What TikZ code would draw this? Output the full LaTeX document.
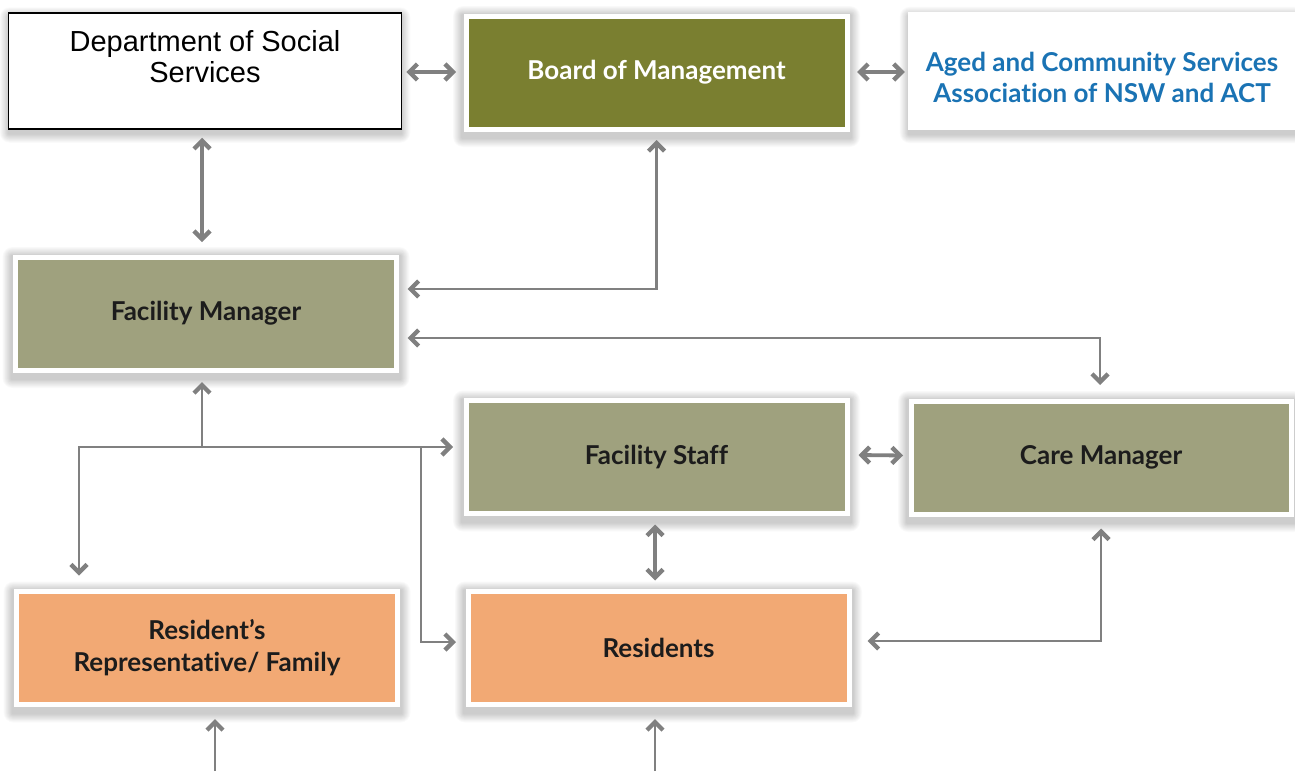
\documentclass[tikz,border=0pt]{standalone}
\usepackage{fontspec}
\setmainfont{Liberation Sans}
\newfontfamily\boxfont{Lato}[Ligatures={NoCommon,NoRare,NoDiscretionary}]
\usetikzlibrary{arrows.meta,backgrounds,calc}

\definecolor{olivebox}{RGB}{122,127,48}
\definecolor{sagebox}{RGB}{159,161,126}
\definecolor{peachbox}{RGB}{242,169,116}
\definecolor{acsblue}{RGB}{26,115,180}
\definecolor{linkgrey}{RGB}{128,128,128}
\definecolor{inkdark}{RGB}{28,28,28}

\tikzset{
  framed/.style={draw=white, line width=5pt, minimum width=381pt,
    minimum height=113pt, inner sep=0pt, align=center, text=inkdark,
    font=\boxfont\bfseries\fontsize{26}{32}\selectfont},
  olive/.style={framed, fill=olivebox, text=white},
  sage/.style={framed, fill=sagebox},
  peach/.style={framed, fill=peachbox},
  link/.style={draw=linkgrey, line width=2.7pt,
    >={Straight Barb[length=8pt,width=16pt,line width=4.4pt]}},
  pair/.style={link, line width=3.8pt},
}

% soft shadow below a box: stacked translucent rectangles
\newcommand\boxshadow[2]{%
  \foreach \i in {1,...,10}{
    \fill[black, opacity=0.02, rounded corners=\i pt]
      ($(#1.north west)+(-#2-\i*0.9+1, -#2-\i*0.9+4)$) rectangle
      ($(#1.south east)+(#2+\i*0.9-1, #2+\i*0.9+4)$);
  }}

\begin{document}
\begin{tikzpicture}[x=1pt, y=-1pt]
\useasboundingbox (0,0) rectangle (1295,771);

% boxes
\node[draw=black, line width=1.5pt, fill=white, minimum width=393pt,
      minimum height=116pt, inner sep=0pt] (dss) at (205,71) {};
\node[align=center, font=\fontsize{29}{31}\selectfont] (dsstext) at (205,57)
      {Department of Social\\Services};
\node[olive] (board) at (656.5,72.5) {Board of Management};
\node[fill=white, minimum width=388pt, minimum height=118pt, inner sep=0pt]
      (acsa) at (1102,71) {};
\node[align=center, text=acsblue,
      font=\boxfont\bfseries\fontsize{26}{31}\selectfont] (acsatext) at (1102,77)
      {Aged and Community Services\\Association of NSW and ACT};
\node[sage] (fm) at (206,313.5) {Facility Manager};
\node[sage] (fs) at (656.5,457) {Facility Staff};
\node[sage, minimum width=380pt] (cm) at (1101,457.5) {Care Manager};
\node[peach] (rr) at (207,648) {Resident’s\\Representative/ Family};
\node[peach] (res) at (658.5,648) {Residents};

% backdrop and shadows
\begin{scope}[on background layer]
  \fill[white] (0,0) rectangle (1295,771);
  \boxshadow{dss}{0}
  \boxshadow{acsa}{0}
  \boxshadow{board}{2.5}
  \boxshadow{fm}{2.5}
  \boxshadow{fs}{2.5}
  \boxshadow{cm}{2.5}
  \boxshadow{rr}{2.5}
  \boxshadow{res}{2.5}
\end{scope}

% junction points and feeds entering from below
\coordinate (hub) at (202,447);
\coordinate (split) at (421,447);
\coordinate (rrfeed) at (215,771);
\coordinate (resfeed) at (655,771);

% connectors
\draw[pair,<->] (dss.east |- 0,72) ++(4,0) -- ($(board.west)+(-7.5,-0.5)$);
\draw[pair,<->] ($(board.east)+(7.5,-0.5)$) -- ($(acsa.west)+(-3,1)$);
\draw[pair,<->] ($(dss.south)+(-3,8)$) -- ($(fm.north)+(-4,-12.5)$);
\draw[link,<->] ($(board.south)+(0,8.5)$) |- ($(fm.east)+(8.5,-24.5)$);
\draw[link,<->] ($(fm.east)+(8.5,24.5)$) -| ($(cm.north)+(-1,-13.5)$);
\draw[link,->] (hub) -- ($(fm.south)+(-4,9.5)$);
\draw[link,<->] ($(rr.north)+(-128,-13.5)$) |- ($(fs.west)+(-10.5,-10)$);
\draw[link,->] (split) |- ($(res.west)+(-9.5,-6)$);
\draw[pair,<->] ($(fs.south)+(-1.5,8.5)$) -- ($(res.north)+(-3.5,-8.5)$);
\draw[pair,<->] ($(fs.east)+(9,-2)$) -- ($(cm.west)+(-5.5,-2)$);
\draw[link,<->] ($(cm.south)+(0,12)$) |- ($(res.east)+(16,-7)$);
\draw[link,->] (rrfeed) -- ($(rr.south)+(8,12)$);
\draw[link,->] (resfeed) -- ($(res.south)+(-3.5,12)$);
\end{tikzpicture}
\end{document}
